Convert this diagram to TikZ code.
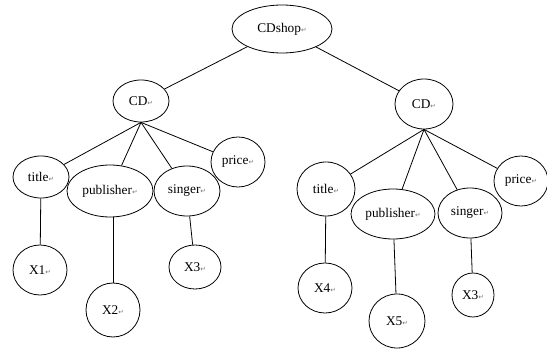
\documentclass[tikz,border=0pt]{standalone}
\usepackage{fontspec}
\setmainfont{Liberation Serif}
\newfontfamily\markfont{DejaVu Sans}
\usetikzlibrary{shapes.geometric}
\newcommand{\pmark}{{\markfont\fontsize{5}{5}\selectfont\textcolor{black!55}{↵}}}

\begin{document}
\begin{tikzpicture}[x=0.75pt,y=-0.75pt,
	elem/.style={draw,ellipse,inner sep=0pt,line width=0.6pt,font=\fontsize{10}{12}\selectfont},
	link/.style={line width=0.6pt}]
	%%%%% START %%%%%
	\useasboundingbox (0,0) rectangle (547,349);
	
	\node[elem,minimum width=75pt,minimum height=36pt] (shop) at (282,29) {CDshop\pmark};
	
	% left CD
	\node[elem,minimum width=42pt,minimum height=31.5pt] (cdL) at (141,101) {CD\pmark};
	\node[elem,minimum width=42pt,minimum height=31.5pt] (titleL) at (41,177) {title\pmark};
	\node[elem,minimum width=64.5pt,minimum height=39pt] (pubL) at (110,191) {publisher\pmark};
	\node[elem,minimum width=49.5pt,minimum height=37.5pt] (singerL) at (187,191) {singer\pmark};
	\node[elem,minimum width=40.5pt,minimum height=37.5pt] (priceL) at (238,162) {price\pmark};
	\node[elem,minimum width=40.5pt,minimum height=37.5pt] (xa) at (40,270) {X1\pmark};
	\node[elem,minimum width=40.5pt,minimum height=40.5pt] (xb) at (113,310) {X2\pmark};
	\node[elem,minimum width=39pt,minimum height=33pt] (xc) at (195,267) {X3\pmark};
	
	% right CD
	\node[elem,minimum width=43.5pt,minimum height=37.5pt] (cdR) at (424,104) {CD\pmark};
	\node[elem,minimum width=43.5pt,minimum height=40.5pt] (titleR) at (326,189) {title\pmark};
	\node[elem,minimum width=63pt,minimum height=37.5pt] (pubR) at (393,214) {publisher\pmark};
	\node[elem,minimum width=48pt,minimum height=37.5pt] (singerR) at (470,213) {singer\pmark};
	\node[elem,minimum width=40.5pt,minimum height=37.5pt] (priceR) at (521,181) {price\pmark};
	\node[elem,minimum width=40.5pt,minimum height=37.5pt] (xd) at (325,288) {X4\pmark};
	\node[elem,minimum width=42pt,minimum height=40.5pt] (xe) at (397,321) {X5\pmark};
	\node[elem,minimum width=31.5pt,minimum height=33pt] (xf) at (473,295) {X3\pmark};
	
	\draw[link] (shop) -- (cdL);
	\draw[link] (shop) -- (cdR);
	
	\draw[link] (cdL.south) -- (titleL);
	\draw[link] (cdL.south) -- (pubL);
	\draw[link] (cdL.south) -- (singerL);
	\draw[link] (cdL.south) -- (priceL);
	\draw[link] (titleL) -- (xa);
	\draw[link] (xb.north) -- (xb |- pubL.south);
	\draw[link] (singerL) -- (xc);
	
	\draw[link] (cdR.south) -- (titleR);
	\draw[link] (cdR.south) -- (pubR);
	\draw[link] (cdR.south) -- (singerR);
	\draw[link] (cdR.south) -- (priceR);
	\draw[link] (titleR) -- (xd);
	\draw[link] (pubR) -- (xe);
	\draw[link] (singerR) -- (xf);
	
	%%%%% END %%%%%
\end{tikzpicture}
\end{document}
